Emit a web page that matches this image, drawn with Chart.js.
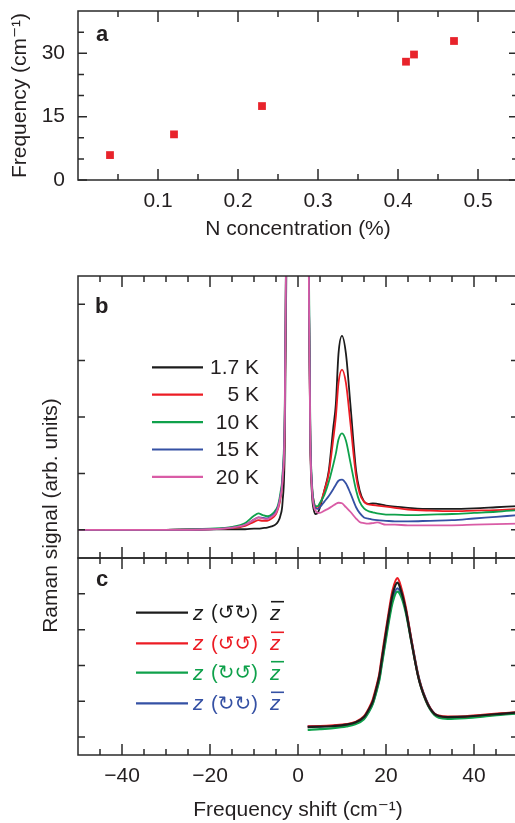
<!DOCTYPE html>
<html><head><meta charset="utf-8">
<script src="https://cdn.jsdelivr.net/npm/chart.js@4/dist/chart.umd.min.js"></script>
<style>
html,body{margin:0;padding:0;background:#fff;overflow:hidden;width:515px;height:823px;position:relative}
canvas{position:absolute;left:0;top:0}
</style></head><body>
<canvas id="ca" width="530" height="823"></canvas>
<canvas id="cb" width="530" height="823"></canvas>
<script>
// ---------- Panel a ----------
const nConcentration = [0.04, 0.12, 0.23, 0.41, 0.42, 0.47];
const modeFrequency  = [5.9, 10.8, 17.5, 28.0, 29.7, 32.9];
const aXLabels = [0.1, 0.2, 0.3, 0.4, 0.5];
const aXMinor = [0.05, 0.15, 0.25, 0.35, 0.45];
const aYLabels = [0, 15, 30];
const aYMinor = [5, 10, 20, 25, 35];

// ---------- Panel b ----------
const shiftB = [-50,-40,-30,-20,-15,-12,-10,-9,-8,-7,-6,-5,-4.5,-4,-3.5,-3,-2.6,-2.3,0,2.2,2.5,2.8,3.2,3.6,4,4.5,5,6,7,8,8.6,9.2,10,10.9,11.9,13.2,14,15,16,17,18,20,22,25,30,35,40,45,50];
const tempLabels = ['1.7 K', '5 K', '10 K', '15 K', '20 K'];
const raman1_7K = [0,0,0,0.01,0.01,0.01,0.02,0.02,0.03,0.04,0.06,0.1,0.15,0.25,0.5,1.5,5,9,12,9,4,1.5,0.6,0.35,0.28,0.3,0.4,0.7,1.05,1.8,2.23,3.12,3.44,3.12,2.23,1.05,0.7,0.5,0.46,0.47,0.46,0.43,0.41,0.39,0.37,0.37,0.38,0.4,0.42];
const raman5K   = [0,0,0,0.01,0.03,0.07,0.14,0.17,0.16,0.16,0.2,0.28,0.38,0.55,0.9,2,6,10,12,9,4,1.6,0.75,0.5,0.4,0.38,0.45,0.7,1.0,1.6,2.0,2.6,2.84,2.6,1.9,0.95,0.65,0.5,0.45,0.44,0.43,0.41,0.39,0.36,0.34,0.33,0.34,0.35,0.37];
const raman10K  = [0,0,0,0.02,0.05,0.12,0.25,0.29,0.26,0.24,0.27,0.36,0.45,0.65,1.0,2.2,6,10,12,9,4.5,1.8,0.8,0.5,0.42,0.42,0.48,0.62,0.85,1.15,1.35,1.6,1.71,1.58,1.2,0.7,0.5,0.38,0.33,0.31,0.29,0.27,0.27,0.26,0.27,0.28,0.3,0.32,0.35];
const raman15K  = [0,0,0,0.01,0.04,0.09,0.18,0.22,0.21,0.2,0.24,0.32,0.42,0.6,0.95,2.1,6,10,12,9,4.2,1.7,0.75,0.45,0.38,0.37,0.4,0.5,0.6,0.72,0.8,0.87,0.89,0.82,0.65,0.4,0.3,0.22,0.2,0.18,0.17,0.16,0.15,0.15,0.16,0.17,0.2,0.23,0.26];
const raman20K  = [0,0,0,0.01,0.04,0.09,0.18,0.22,0.2,0.19,0.23,0.3,0.4,0.58,0.9,2,6,10,12,9,4,1.6,0.7,0.42,0.34,0.3,0.3,0.34,0.38,0.43,0.46,0.48,0.47,0.4,0.32,0.2,0.14,0.12,0.11,0.12,0.13,0.09,0.09,0.08,0.08,0.08,0.09,0.1,0.11];

// ---------- Panel c ----------
const shiftC = [2.2,5,8,11,13,15,16,17,18,18.5,19,19.6,20.8,21.5,22.6,23.5,24.5,25.8,27.2,28,29.1,30,31,32,34,38,42,46,50];
const polLabels = ['(\u21BA\u21BB)', '(\u21BA\u21BA)', '(\u21BB\u21BA)', '(\u21BB\u21BB)'];
const ramanCCW_CW  = [0.28,0.29,0.31,0.35,0.41,0.56,0.75,1.0,1.45,1.72,2.12,2.6,3.52,3.98,4.31,4.05,3.55,2.65,1.75,1.38,1.02,0.8,0.65,0.59,0.56,0.57,0.61,0.65,0.69];
const ramanCCW_CCW = [0.3,0.31,0.33,0.36,0.42,0.58,0.78,1.05,1.5,1.77,2.2,2.69,3.62,4.1,4.44,4.15,3.62,2.69,1.77,1.4,1.03,0.82,0.66,0.6,0.57,0.58,0.62,0.66,0.7];
const ramanCW_CCW  = [0.2,0.22,0.25,0.3,0.36,0.5,0.68,0.93,1.35,1.6,1.98,2.44,3.33,3.76,4.06,3.9,3.47,2.64,1.76,1.38,1.0,0.78,0.62,0.54,0.51,0.53,0.57,0.62,0.66];
const ramanCW_CW   = [0.3,0.3,0.31,0.34,0.39,0.52,0.7,0.95,1.38,1.64,2.03,2.5,3.42,3.85,4.15,3.98,3.55,2.7,1.8,1.42,1.05,0.82,0.66,0.58,0.55,0.56,0.6,0.64,0.67];
const bcXLabels = [-40, -20, 0, 20, 40];
const bcXMinor = [-45,-35,-30,-25,-15,-10,-5,5,10,15,25,30,35,45];
const bcYTicks = [0, 1, 2, 3, 4];

// ---------- styling ----------
const FONT = '"Liberation Sans", Arial, Helvetica, "DejaVu Sans", sans-serif';
const TXT = '#231f20';
const AXIS = '#2a2a2a';
const C_BLACK = '#1c1c1c', C_RED = '#ec1c24', C_GREEN = '#0fa14b', C_BLUE = '#3551a4', C_PINK = '#d95ca6';
Chart.defaults.font.family = FONT;
Chart.defaults.font.size = 21;
Chart.defaults.color = TXT;

const toPts = (xs, ys) => xs.map((x, i) => ({x: x, y: ys[i]}));
const minus = v => (v < 0 ? '\u2212' + Math.abs(v) : String(v));
const setTicks = vals => (s => { s.ticks = vals.map(v => ({value: v})); });
const fixWidth = w => (s => { s.width = w; s.paddingTop = 0; s.paddingBottom = 0; });
const fixHeight = h => (s => { s.height = h; s.paddingLeft = 0; s.paddingRight = 0; });

const framePlugin = {
  id: 'frame',
  afterDatasetsDraw(chart, args, opts) {
    const ctx = chart.ctx;
    const xs = chart.scales.x;
    const L = chart.chartArea.left, R = chart.chartArea.right;
    ctx.save();
    ctx.strokeStyle = AXIS;
    ctx.lineWidth = 1.5;
    for (const p of opts.panels) {
      const ys = chart.scales[p.yId];
      const T = ys.top, B = ys.bottom;
      ctx.strokeRect(L, T, R - L, B - T);
      ctx.beginPath();
      const vx = (vals, len) => vals.forEach(v => {
        const px = xs.getPixelForValue(v);
        ctx.moveTo(px, B); ctx.lineTo(px, B - len);
        ctx.moveTo(px, T); ctx.lineTo(px, T + len);
      });
      const vy = (vals, len) => vals.forEach(v => {
        const py = ys.getPixelForValue(v);
        ctx.moveTo(L, py); ctx.lineTo(L + len, py);
        ctx.moveTo(R, py); ctx.lineTo(R - len, py);
      });
      vx(p.xMajor, p.xMajorLen); vx(p.xMinor, p.xMinorLen);
      vy(p.yMajor, p.yMajorLen); vy(p.yMinor, p.yMinorLen);
      ctx.stroke();
      ctx.font = 'bold 22px ' + FONT;
      ctx.fillStyle = TXT;
      ctx.textAlign = 'left';
      ctx.textBaseline = 'middle';
      ctx.fillText(p.letter, L + p.letterDx, T + p.letterDy);
    }
    ctx.restore();
  }
};

// ---------- Chart a ----------
new Chart(document.getElementById('ca'), {
  type: 'scatter',
  data: { datasets: [{
    label: 'Frequency',
    data: toPts(nConcentration, modeFrequency),
    pointStyle: 'rect', pointRadius: 5.5, pointHoverRadius: 5.5,
    backgroundColor: '#e8232b', borderWidth: 0
  }]},
  options: {
    responsive: false, animation: false, events: [],
    layout: { autoPadding: false, padding: { top: 11, right: 12, bottom: 573, left: 0 } },
    plugins: {
      legend: { display: false }, tooltip: { enabled: false },
      frame: { panels: [{ yId: 'y', xMajor: aXLabels, xMinor: aXMinor, xMajorLen: 11, xMinorLen: 6,
                          yMajor: aYLabels, yMinor: aYMinor, yMajorLen: 9, yMinorLen: 6,
                          letter: 'a', letterDx: 18, letterDy: 24 }] }
    },
    scales: {
      x: { type: 'linear', position: 'bottom', min: 0, max: 0.55,
           grid: { display: false, drawTicks: false }, border: { display: false },
           afterBuildTicks: setTicks(aXLabels),
           ticks: { autoSkip: false, maxRotation: 0, padding: 9, callback: v => v.toFixed(1) },
           title: { display: true, text: 'N concentration (%)', padding: { top: 0, bottom: 8 } },
           afterFit: fixHeight(70) },
      y: { type: 'linear', position: 'left', min: 0, max: 40,
           grid: { display: false, drawTicks: false }, border: { display: false },
           afterBuildTicks: setTicks(aYLabels),
           ticks: { autoSkip: false, padding: 13 },
           title: { display: true, text: 'Frequency (cm\u207B\u00B9)', padding: { top: 8, bottom: 0 } },
           afterFit: fixWidth(78) }
    }
  },
  plugins: [framePlugin]
});

// ---------- Chart b + c ----------
const legendPlugin = {
  id: 'inlineLegend',
  afterDatasetsDraw(chart) {
    const ctx = chart.ctx;
    const L = chart.chartArea.left;
    const yb = chart.scales.yb, yc = chart.scales.yc;
    ctx.save();
    const bColors = [C_BLACK, C_RED, C_GREEN, C_BLUE, C_PINK];
    ctx.lineWidth = 2.2;
    ctx.textAlign = 'right';
    ctx.textBaseline = 'middle';
    ctx.font = '21px ' + FONT;
    tempLabels.forEach((t, i) => {
      const y = yb.top + 91.3 + i * 27.4;
      ctx.strokeStyle = bColors[i];
      ctx.beginPath(); ctx.moveTo(L + 74, y); ctx.lineTo(L + 125, y); ctx.stroke();
      ctx.fillStyle = TXT;
      ctx.fillText(t, L + 181, y + 1);
    });
    const cColors = [C_BLACK, C_RED, C_GREEN, C_BLUE];
    const rows = [54.7, 85.3, 114.7, 145.3];
    polLabels.forEach((t, i) => {
      const y = yc.top + rows[i];
      ctx.strokeStyle = cColors[i];
      ctx.fillStyle = cColors[i];
      ctx.lineWidth = 2.2;
      ctx.beginPath(); ctx.moveTo(L + 58, y); ctx.lineTo(L + 110, y); ctx.stroke();
      ctx.textAlign = 'left';
      ctx.font = 'italic 21px ' + FONT;
      ctx.fillText('z', L + 115, y + 1);
      ctx.font = '20px ' + FONT;
      ctx.fillText(t, L + 133, y + 1);
      ctx.font = 'italic 21px ' + FONT;
      ctx.fillText('z', L + 192, y + 1);
      ctx.lineWidth = 1.6;
      ctx.beginPath(); ctx.moveTo(L + 193, y - 11); ctx.lineTo(L + 206, y - 11); ctx.stroke();
    });
    ctx.restore();
  }
};

const lineDs = (label, xs, ys, color, axis, w) => ({
  label: label, data: toPts(xs, ys), yAxisID: axis,
  borderColor: color, backgroundColor: color, borderWidth: w,
  pointRadius: 0, pointHoverRadius: 0, fill: false,
  cubicInterpolationMode: 'monotone'
});

new Chart(document.getElementById('cb'), {
  type: 'line',
  data: { datasets: [
    lineDs(tempLabels[4], shiftB, raman20K, C_PINK, 'yb', 1.8),
    lineDs(tempLabels[3], shiftB, raman15K, C_BLUE, 'yb', 1.8),
    lineDs(tempLabels[2], shiftB, raman10K, C_GREEN, 'yb', 1.8),
    lineDs(tempLabels[1], shiftB, raman5K, C_RED, 'yb', 1.8),
    lineDs(tempLabels[0], shiftB, raman1_7K, C_BLACK, 'yb', 1.8),
    lineDs('z ' + polLabels[0] + ' z\u0304', shiftC, ramanCCW_CW, C_BLACK, 'yc', 2.2),
    lineDs('z ' + polLabels[1] + ' z\u0304', shiftC, ramanCCW_CCW, C_RED, 'yc', 2.2),
    lineDs('z ' + polLabels[2] + ' z\u0304', shiftC, ramanCW_CCW, C_GREEN, 'yc', 2.2),
    lineDs('z ' + polLabels[3] + ' z\u0304', shiftC, ramanCW_CW, C_BLUE, 'yc', 2.2)
  ]},
  options: {
    responsive: false, animation: false, events: [],
    layout: { autoPadding: false, padding: { top: 276, right: 12, bottom: 0, left: 0 } },
    plugins: {
      legend: { display: false }, tooltip: { enabled: false },
      frame: { panels: [
        { yId: 'yb', xMajor: bcXLabels, xMinor: bcXMinor, xMajorLen: 11, xMinorLen: 6,
          yMajor: bcYTicks, yMinor: [], yMajorLen: 7, yMinorLen: 0, letter: 'b', letterDx: 17, letterDy: 31 },
        { yId: 'yc', xMajor: bcXLabels, xMinor: bcXMinor, xMajorLen: 11, xMinorLen: 6,
          yMajor: bcYTicks, yMinor: [], yMajorLen: 7, yMinorLen: 0, letter: 'c', letterDx: 18, letterDy: 22 }
      ] }
    },
    scales: {
      x: { type: 'linear', position: 'bottom', min: -50, max: 50,
           grid: { display: false, drawTicks: false }, border: { display: false },
           afterBuildTicks: setTicks(bcXLabels),
           ticks: { autoSkip: false, maxRotation: 0, padding: 9, callback: v => minus(v) },
           title: { display: true, text: 'Frequency shift (cm\u207B\u00B9)', padding: { top: 0, bottom: 0 } },
           afterFit: fixHeight(68) },
      yt: { type: 'linear', position: 'left', weight: 10, min: 0, max: 1,
            grid: { display: false, drawTicks: false }, border: { display: false }, ticks: { display: false },
            title: { display: true, text: 'Raman signal (arb. units)', padding: { top: 39, bottom: 0 } },
            afterFit: fixWidth(78) },
      yb: { type: 'linear', position: 'left', display: false, stack: 'raman', stackWeight: 282, weight: 2,
            min: -0.5, max: 4.5 },
      yc: { type: 'linear', position: 'left', display: false, stack: 'raman', stackWeight: 197, weight: 1,
            min: -0.5, max: 5 }
    }
  },
  plugins: [framePlugin, legendPlugin]
});
</script>
</body></html>
